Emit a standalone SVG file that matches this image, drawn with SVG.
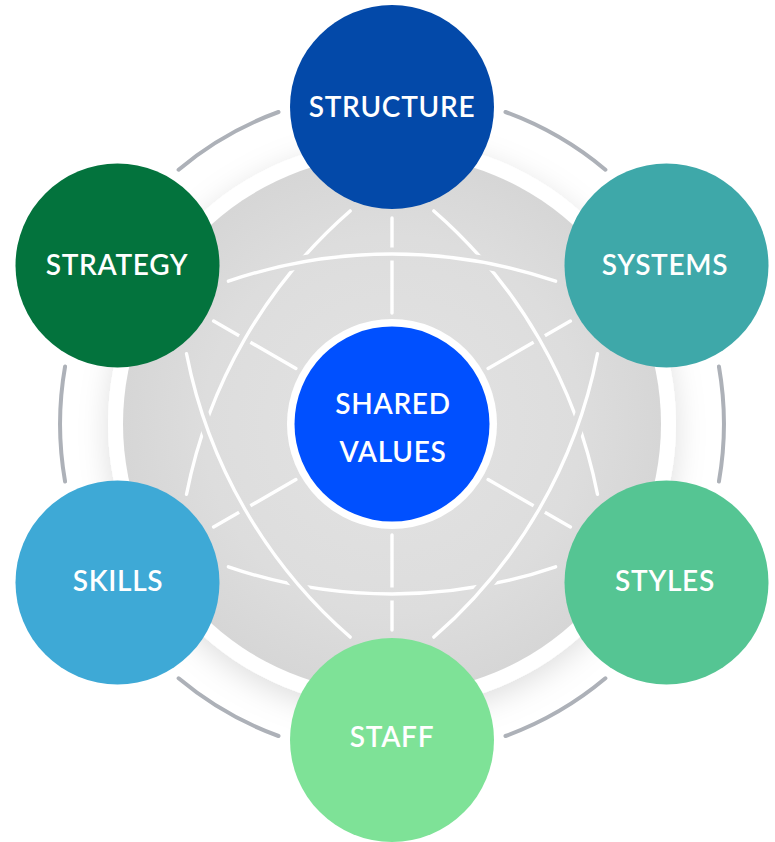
<svg xmlns="http://www.w3.org/2000/svg" width="775" height="842" viewBox="0 0 775 842">
  <style>
    .lbl { font-family: Lato, "Open Sans", "Liberation Sans", sans-serif; font-size: 28px; font-weight: 600; letter-spacing: 0.7px; fill: #ffffff; text-anchor: middle; }
    .wl { fill: none; stroke: #ffffff; stroke-width: 3.4; stroke-linecap: round; }
    .ga { fill: none; stroke: #adb1b8; stroke-width: 4; stroke-linecap: round; }
    .mk { fill: none; stroke: #000000; stroke-width: 13; }
  </style>
  <defs>
    <radialGradient id="disc" cx="392" cy="424" r="269" gradientUnits="userSpaceOnUse">
      <stop offset="0" stop-color="#e3e3e3"/>
      <stop offset="0.7" stop-color="#dddddd"/>
      <stop offset="1" stop-color="#d6d6d6"/>
    </radialGradient>
    <filter id="sh" x="-30%" y="-30%" width="160%" height="160%">
      <feDropShadow dx="0" dy="8" stdDeviation="15" flood-color="#000000" flood-opacity="0.13"/>
    </filter>
    <mask id="mSpoke" maskUnits="userSpaceOnUse" x="0" y="0" width="775" height="842">
      <rect x="0" y="0" width="775" height="842" fill="#ffffff"/>
      <path class="mk" d="M228.4,281.2 A505,505 0 0 1 555.6,281.2"/>
      <path class="mk" d="M433.87,210.92 A505,505 0 0 1 597.47,494.28"/>
      <path class="mk" d="M597.47,353.72 A505,505 0 0 1 433.87,637.08"/>
      <path class="mk" d="M555.6,566.8 A505,505 0 0 1 228.4,566.8"/>
      <path class="mk" d="M350.13,637.08 A505,505 0 0 1 186.53,353.72"/>
      <path class="mk" d="M186.53,494.28 A505,505 0 0 1 350.13,210.92"/>
    </mask>
    <mask id="mArc" maskUnits="userSpaceOnUse" x="0" y="0" width="775" height="842">
      <rect x="0" y="0" width="775" height="842" fill="#ffffff"/>
      <path class="mk" d="M228.4,281.2 A505,505 0 0 1 555.6,281.2"/>
      <path class="mk" d="M597.47,353.72 A505,505 0 0 1 433.87,637.08"/>
      <path class="mk" d="M350.13,637.08 A505,505 0 0 1 186.53,353.72"/>
    </mask>
  </defs>

  <rect x="0" y="0" width="775" height="842" fill="#ffffff"/>

  <g id="backdrop">
    <circle cx="392" cy="424" r="284" fill="#ffffff" filter="url(#sh)"/>
    <circle cx="392" cy="424" r="269" fill="url(#disc)"/>
  </g>

  <g id="connectors">
    <g id="spokes" mask="url(#mSpoke)">
      <line class="wl" x1="392" y1="313" x2="392" y2="218"/>
      <line class="wl" x1="488.1" y1="368.5" x2="570.4" y2="321"/>
      <line class="wl" x1="488.1" y1="479.5" x2="570.4" y2="527"/>
      <line class="wl" x1="392" y1="535" x2="392" y2="630"/>
      <line class="wl" x1="295.9" y1="479.5" x2="213.6" y2="527"/>
      <line class="wl" x1="295.9" y1="368.5" x2="213.6" y2="321"/>
    </g>
    <g id="arcs-under" mask="url(#mArc)">
      <path class="wl" d="M433.87,210.92 A505,505 0 0 1 597.47,494.28"/>
      <path class="wl" d="M555.6,566.8 A505,505 0 0 1 228.4,566.8"/>
      <path class="wl" d="M186.53,494.28 A505,505 0 0 1 350.13,210.92"/>
    </g>
    <g id="arcs-over">
      <path class="wl" d="M228.4,281.2 A505,505 0 0 1 555.6,281.2"/>
      <path class="wl" d="M597.47,353.72 A505,505 0 0 1 433.87,637.08"/>
      <path class="wl" d="M350.13,637.08 A505,505 0 0 1 186.53,353.72"/>
    </g>
    <g id="outer-arcs">
      <path class="ga" d="M178.6,169.7 A332,332 0 0 1 278.5,112"/>
      <path class="ga" d="M505.5,112 A332,332 0 0 1 605.4,169.7"/>
      <path class="ga" d="M718.9,366.4 A332,332 0 0 1 718.9,481.6"/>
      <path class="ga" d="M605.4,678.3 A332,332 0 0 1 505.5,736"/>
      <path class="ga" d="M278.5,736 A332,332 0 0 1 178.6,678.3"/>
      <path class="ga" d="M65.1,481.6 A332,332 0 0 1 65.1,366.4"/>
    </g>
  </g>

  <g id="shared-values">
    <circle cx="392" cy="424" r="105" fill="#ffffff"/>
    <circle cx="392" cy="424" r="97.5" fill="#0050ff"/>
    <text class="lbl" x="393" y="414">SHARED</text>
    <text class="lbl" x="393" y="462">VALUES</text>
  </g>

  <g id="structure">
    <circle cx="392" cy="107" r="102" fill="#0349a9"/>
    <text class="lbl" x="392" y="117">STRUCTURE</text>
  </g>
  <g id="systems">
    <circle cx="666.5" cy="265.5" r="102" fill="#3ea8a9"/>
    <text class="lbl" x="665" y="275">SYSTEMS</text>
  </g>
  <g id="styles">
    <circle cx="666.5" cy="582.5" r="102" fill="#55c593"/>
    <text class="lbl" x="665" y="591">STYLES</text>
  </g>
  <g id="staff">
    <circle cx="392" cy="740" r="102" fill="#7ee297"/>
    <text class="lbl" x="392" y="747">STAFF</text>
  </g>
  <g id="skills">
    <circle cx="117.5" cy="582.5" r="102" fill="#3ea9d6"/>
    <text class="lbl" x="118" y="591">SKILLS</text>
  </g>
  <g id="strategy">
    <circle cx="117.5" cy="265.5" r="102" fill="#03733d"/>
    <text class="lbl" x="117" y="275">STRATEGY</text>
  </g>
</svg>
